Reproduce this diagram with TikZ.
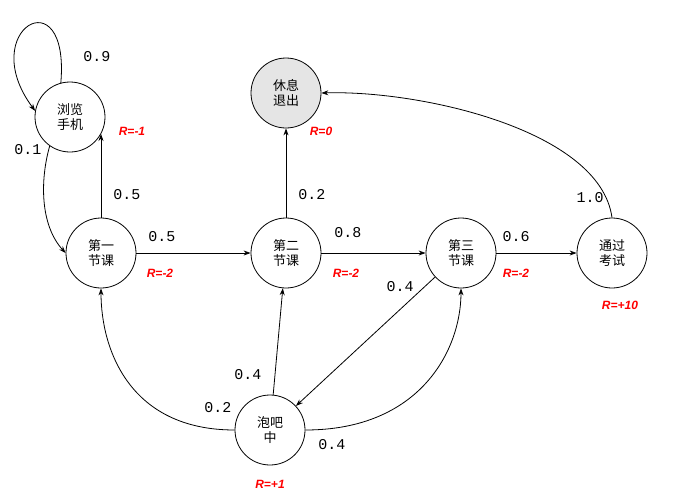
\documentclass[tikz,border=0pt]{standalone}
\usepackage{fontspec}
\newfontfamily\cjk{Noto Sans CJK SC}
\newfontfamily\rfont{Liberation Sans}
\newfontfamily\numfont{Liberation Mono}
\usetikzlibrary{arrows.meta}
\begin{document}
\begin{tikzpicture}[x=1pt,y=-1pt,
 st/.style={circle,draw,thick,minimum size=70pt,inner sep=0pt,align=center,font=\cjk\fontsize{13}{15}\selectfont},
 rw/.style={text=red,font=\rfont\itshape\bfseries\fontsize{12}{14}\selectfont},
 pb/.style={font=\numfont\fontsize{15}{17}\selectfont},
 ar/.style={-{Stealth[length=7pt,width=5pt]},thick}]
\useasboundingbox (0,0) rectangle (673,499);
\node[st] (fb) at (70,117) {浏览\\手机};
\node[st,fill=gray!20] (rest) at (286,93) {休息\\退出};
\node[st] (c1) at (101,253) {第一\\节课};
\node[st] (c2) at (286,253) {第二\\节课};
\node[st] (c3) at (461,253) {第三\\节课};
\node[st] (pass) at (612,253) {通过\\考试};
\node[st] (pub) at (270,430) {泡吧\\中};
\coordinate (fbin) at (101,134);
\node[rw] (r1) at (132,131) {R=-1};
\node[rw] (r2) at (321,131) {R=0};
\node[rw] (r3) at (160,273) {R=-2};
\node[rw] (r4) at (346,273) {R=-2};
\node[rw] (r5) at (516,273) {R=-2};
\node[rw] (r6) at (620,305) {R=+10};
\node[rw] (r7) at (270,484) {R=+1};
\draw[ar] (fb.105) .. controls (70,-25) and (-25,30) .. (fb.170);
\draw[ar] (fb.235) .. controls (40,180) and (40,225) .. (c1.180);
\draw[ar] (c1.90) -- (fbin);
\draw[ar] (c1) -- (c2);
\draw[ar] (c2) -- (rest);
\draw[ar] (c2) -- (c3);
\draw[ar] (c3) -- (pass);
\draw[ar] (pass.90) .. controls (600,130) and (420,90) .. (rest.east);
\draw[ar] (c3) -- (pub);
\draw[ar] (pub.180) .. controls (130,430) and (101,350) .. (c1.270);
\draw[ar] (pub) -- (c2);
\draw[ar] (pub.0) .. controls (420,430) and (461,350) .. (c3.270);
\node[pb] (p1) at (97,57) {0.9};
\node[pb] (p2) at (28,150) {0.1};
\node[pb] (p3) at (127,195) {0.5};
\node[pb] (p4) at (162,237) {0.5};
\node[pb] (p5) at (312,195) {0.2};
\node[pb] (p6) at (348,233) {0.8};
\node[pb] (p7) at (516,237) {0.6};
\node[pb] (p8) at (590,198) {1.0};
\node[pb] (p9) at (400,287) {0.4};
\node[pb] (p10) at (218,408) {0.2};
\node[pb] (p11) at (248,375) {0.4};
\node[pb] (p12) at (332,445) {0.4};
\end{tikzpicture}
\end{document}
